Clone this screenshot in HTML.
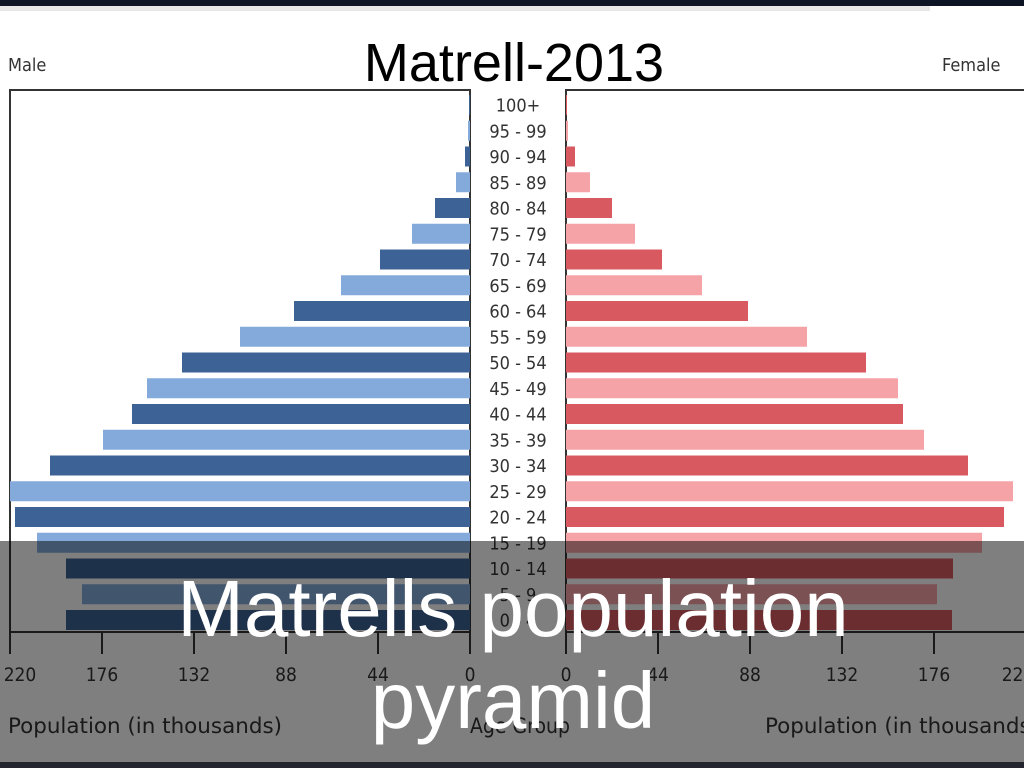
<!DOCTYPE html>
<html><head><meta charset="utf-8"><style>
html,body{margin:0;padding:0;background:#fff;}
body{width:1024px;height:768px;overflow:hidden;position:relative;font-family:"Liberation Sans",sans-serif;}
</style></head><body>
<svg width="1024" height="768" viewBox="0 0 1024 768" xmlns="http://www.w3.org/2000/svg" style="position:absolute;left:0;top:0">
<rect x="0" y="0" width="1024" height="768" fill="#fff"/>
<rect x="0" y="0" width="1024" height="6" fill="#0d1424"/>
<rect x="0" y="6" width="930" height="5" fill="#e6e6e6"/>
<text x="8" y="71" font-size="18" fill="#333" font-family="DejaVu Sans Condensed,DejaVu Sans,sans-serif">Male</text>
<text x="942" y="71" font-size="18" fill="#333" font-family="DejaVu Sans Condensed,DejaVu Sans,sans-serif">Female</text>
<text x="514" y="81" font-size="54" fill="#000" text-anchor="middle" font-family="Liberation Sans Narrow,Liberation Sans,sans-serif">Matrell-2013</text>
<g fill="none" stroke="#333" stroke-width="2">
<path d="M10,632 V90 H470 V632"/>
<path d="M566,632 V90 H1026"/>
<path d="M10,632 H470 M566,632 H1026"/>
<path d="M10,632v22 M102,632v22 M194,632v22 M286,632v22 M378,632v22 M470,632v22 M566,632v22 M658,632v22 M750,632v22 M842,632v22 M934,632v22"/>
</g>
<g id="bars"></g>
<g font-size="19" fill="#333" text-anchor="middle" font-family="DejaVu Sans Condensed,DejaVu Sans,sans-serif">
<text x="20" y="681">220</text><text x="102" y="681">176</text><text x="194" y="681">132</text><text x="286" y="681">88</text><text x="378" y="681">44</text><text x="470" y="681">0</text>
<text x="566" y="681">0</text><text x="658" y="681">44</text><text x="750" y="681">88</text><text x="842" y="681">132</text><text x="934" y="681">176</text><text x="1018" y="681">220</text>
</g>
<g font-size="21" fill="#333" font-family="DejaVu Sans Condensed,DejaVu Sans,sans-serif">
<text x="8" y="733" textLength="274" lengthAdjust="spacingAndGlyphs">Population (in thousands)</text>
<text x="470" y="733">Age Group</text>
<text x="765" y="733" textLength="274" lengthAdjust="spacingAndGlyphs">Population (in thousands)</text>
</g>
<rect x="0" y="541" width="1024" height="221" fill="rgba(0,0,0,0.5)"/>
<rect x="0" y="762" width="1024" height="6" fill="#23262e"/>
<g fill="#fff" text-anchor="middle" font-size="80" font-family="Liberation Sans,DejaVu Sans,sans-serif">
<text x="513" y="636">Matrells population</text>
<text x="513" y="728">pyramid</text>
</g>
</svg>
<script>
var L=[469,468,465,456,435,412,380,341,294,240,182,147,132,103,50,10,15,37,66,82,66];
var R=[567,568,575,590,612,635,662,702,748,807,866,898,903,924,968,1013,1004,982,953,937,952];
var ages=["100+","95 - 99","90 - 94","85 - 89","80 - 84","75 - 79","70 - 74","65 - 69","60 - 64","55 - 59","50 - 54","45 - 49","40 - 44","35 - 39","30 - 34","25 - 29","20 - 24","15 - 19","10 - 14","5 - 9","0 - 4"];
var g=document.getElementById('bars'),s='';
for(var i=0;i<21;i++){
 var cy=105+i*25.75,y=cy-10,d=i%2==0;
 s+='<rect x="'+L[i]+'" y="'+y+'" width="'+(470-L[i])+'" height="20" fill="'+(d?'#3d6296':'#83aadb')+'"/>';
 s+='<rect x="566" y="'+y+'" width="'+(R[i]-566)+'" height="20" fill="'+(d?'#d85a60':'#f6a3a8')+'"/>';
 s+='<text x="518" y="'+(cy+6.5)+'" font-size="18" fill="#333" text-anchor="middle" font-family="DejaVu Sans Condensed,DejaVu Sans,sans-serif">'+ages[i]+'</text>';
}
g.innerHTML=s;
</script>
</body></html>
